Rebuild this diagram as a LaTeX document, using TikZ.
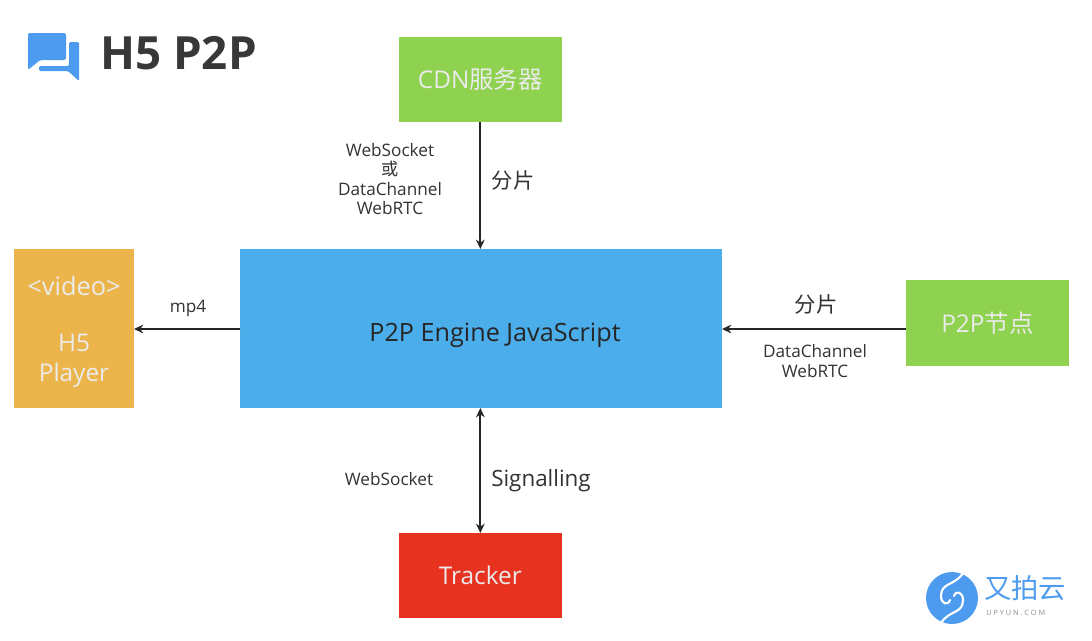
\documentclass[tikz,border=0pt]{standalone}
\usepackage{fontspec}
\setmainfont{Open Sans}
\newfontfamily\cjk{Noto Sans CJK SC}
\definecolor{bluebox}{HTML}{4BADEA}
\definecolor{greenbox}{HTML}{8ED24F}
\definecolor{orangebox}{HTML}{EBB54B}
\definecolor{redbox}{HTML}{E7321F}
\definecolor{logoblue}{HTML}{4D9BEE}
\definecolor{txt}{HTML}{333333}
\usetikzlibrary{arrows.meta}
\tikzset{
 x=0.75pt,y=-0.75pt,
 boxn/.style={inner sep=0pt,outer sep=0pt,align=center},
 wtxt/.style={text=white!92!black,font=\fontsize{18.3}{22.5}\selectfont,align=center},
 smalltxt/.style={text=txt,font=\fontsize{12.9}{14.7}\selectfont,align=center,inner sep=0pt},
 midtxt/.style={text=txt,font=\fontsize{16.8}{20}\selectfont,align=center,inner sep=0pt},
 cjkmid/.style={text=txt,font=\cjk\fontsize{16}{20}\selectfont,align=center,inner sep=0pt},
 conn/.style={draw=black!85,line width=1.6pt,>={Stealth[length=7pt,width=6.5pt]}},
}
\begin{document}
\begin{tikzpicture}
\useasboundingbox (0,0) rectangle (1092,640);
\fill[white] (0,0) rectangle (1092,640);
% boxes
\node[boxn,fill=greenbox,minimum width=122pt,minimum height=63.75pt,anchor=north west,wtxt] (cdn) at (399,37) {CDN{\cjk 服务器}};
\node[boxn,fill=bluebox,minimum width=361.5pt,minimum height=119.25pt,anchor=north west] (eng) at (240,249) {};
\node[inner sep=0pt,text=black!85,font=\fontsize{18.9}{22}\selectfont] (engt) at (495,335) {P2P Engine JavaScript};
\node[boxn,fill=orangebox,minimum width=90pt,minimum height=119.25pt,anchor=north west] (player) at (14,249) {};
\node[wtxt,inner sep=0pt,font=\fontsize{19}{22}\selectfont] (v) at (74,286) {<video>};
\node[wtxt,inner sep=0pt] (h) at (74,361) {H5\\Player};
\node[boxn,fill=greenbox,minimum width=122pt,minimum height=64.5pt,anchor=north west,wtxt] (peer) at (906,280) {P2P{\cjk 节点}};
\node[boxn,fill=redbox,minimum width=122pt,minimum height=63.75pt,anchor=north west,wtxt] (tracker) at (399,533) {Tracker};
% connectors
\coordinate (pp) at (0,329);
\draw[conn,->,xshift=0.6pt] (cdn.south) -- (cdn.south |- eng.north);
\draw[conn,->] (eng.west |- pp) -- (player.east |- pp);
\draw[conn,->] (peer.west |- pp) -- (eng.east |- pp);
\draw[conn,<->,xshift=0.6pt] (tracker.north) -- (tracker.north |- eng.south);
% labels
\node[smalltxt] (l1) at (390,179) {WebSocket\\{\cjk 或}\\DataChannel\\WebRTC};
\node[cjkmid] (l2) at (513,180) {分片};
\node[smalltxt] (l3) at (188,308) {mp4};
\node[cjkmid] (l4) at (816,304) {分片};
\node[smalltxt] (l5) at (815,361) {DataChannel\\WebRTC};
\node[smalltxt] (l6) at (389,479) {WebSocket};
\node[midtxt] (l7) at (541,481) {Signalling};
% title
\node[text=black!78,font=\bfseries\fontsize{34.3}{36}\selectfont,inner sep=0pt,anchor=west] (title) at (100,53) {H5 P2P};
% chat icon
\fill[logoblue,rounded corners=1.5pt] (28,33) -- (66,33) -- (66,60) -- (40,60) -- (28,70) -- cycle;
\fill[logoblue,rounded corners=1pt] (69,42) -- (79,42) -- (79,81) -- (68,71) -- (39,71) -- (39,66) -- (69,66) -- cycle;
% logo
\fill[logoblue] (952,598) circle (26);
\draw[white,line width=1.6pt,line cap=round] (963,573) .. controls (955,586) and (941,582) .. (941,596) .. controls (941,604) and (948,606) .. (950,600);
\draw[white,line width=1.6pt,line cap=round] (941,623) .. controls (949,610) and (963,614) .. (963,600) .. controls (963,592) and (956,590) .. (954,596);
\node[text=logoblue,font=\cjk\fontsize{20.5}{24}\selectfont,inner sep=0pt,anchor=west] (yp) at (984,588) {又拍云};
\node[text=black!45,font=\fontsize{5.5}{6}\selectfont,inner sep=0pt,anchor=west] (up) at (986,613) {U P Y U N . C O M};
\end{tikzpicture}
\end{document}
